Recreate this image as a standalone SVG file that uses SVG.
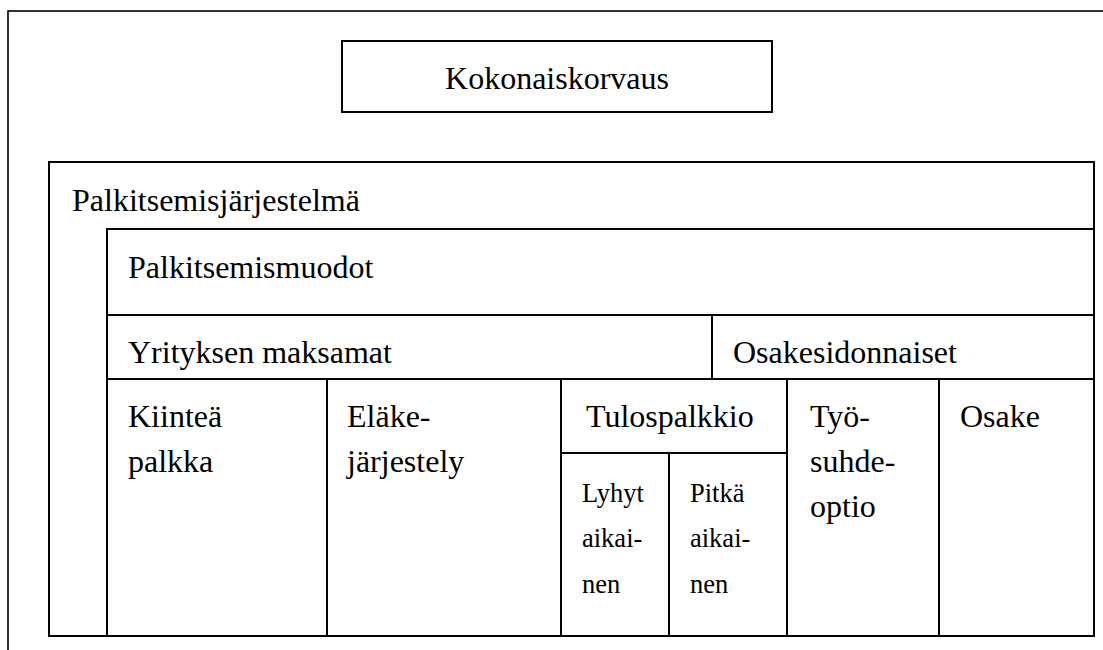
<svg xmlns="http://www.w3.org/2000/svg" width="1103" height="650" viewBox="0 0 1103 650">
<style>
.b{fill:none;stroke:#000;stroke-width:2}
.o{fill:none;stroke:#000;stroke-width:1.6}
.t{font-family:"Liberation Serif","Times New Roman",serif;font-size:32px;fill:#000}
.s{font-family:"Liberation Serif","Times New Roman",serif;font-size:26.5px;fill:#000}
</style>
<rect width="1103" height="650" fill="#fff"/>
<g id="frame"><rect class="o" x="8" y="11" width="1200" height="700"/></g>
<g id="kokonaiskorvaus">
<rect class="b" x="342" y="41" width="430" height="71"/>
<text class="t" x="557" y="89" text-anchor="middle">Kokonaiskorvaus</text>
</g>
<g id="palkitsemisjarjestelma">
<rect class="b" x="49" y="162" width="1045" height="474"/>
<text class="t" x="72" y="211">Palkitsemisjärjestelmä</text>
</g>
<g id="palkitsemismuodot">
<rect class="b" x="107" y="229" width="987" height="407"/>
<text class="t" x="128" y="278">Palkitsemismuodot</text>
</g>
<g id="yrityksen">
<rect class="b" x="107" y="315" width="605" height="64"/>
<text class="t" x="128" y="363">Yrityksen maksamat</text>
</g>
<g id="osakesidonnaiset">
<rect class="b" x="712" y="315" width="382" height="64"/>
<text class="t" x="733" y="363">Osakesidonnaiset</text>
</g>
<g id="kiintea">
<rect class="b" x="107" y="379" width="220" height="257"/>
<text class="t" x="128" y="427">Kiinteä</text>
<text class="t" x="128" y="472">palkka</text>
</g>
<g id="elake">
<rect class="b" x="327" y="379" width="234" height="257"/>
<text class="t" x="347" y="427">Eläke-</text>
<text class="t" x="347" y="472">järjestely</text>
</g>
<g id="tulospalkkio">
<rect class="b" x="561" y="379" width="226" height="74"/>
<text class="t" x="586" y="427">Tulospalkkio</text>
</g>
<g id="lyhyt">
<rect class="b" x="561" y="453" width="108" height="183"/>
<text class="s" x="582" y="502">Lyhyt</text>
<text class="s" x="582" y="547">aikai-</text>
<text class="s" x="582" y="593">nen</text>
</g>
<g id="pitka">
<rect class="b" x="669" y="453" width="118" height="183"/>
<text class="s" x="690" y="502">Pitkä</text>
<text class="s" x="690" y="547">aikai-</text>
<text class="s" x="690" y="593">nen</text>
</g>
<g id="tyosuhdeoptio">
<rect class="b" x="787" y="379" width="152" height="257"/>
<text class="t" x="810" y="427">Työ-</text>
<text class="t" x="810" y="472">suhde-</text>
<text class="t" x="810" y="517">optio</text>
</g>
<g id="osake">
<rect class="b" x="939" y="379" width="155" height="257"/>
<text class="t" x="960" y="427">Osake</text>
</g>
<g id="connectors"></g>
</svg>
